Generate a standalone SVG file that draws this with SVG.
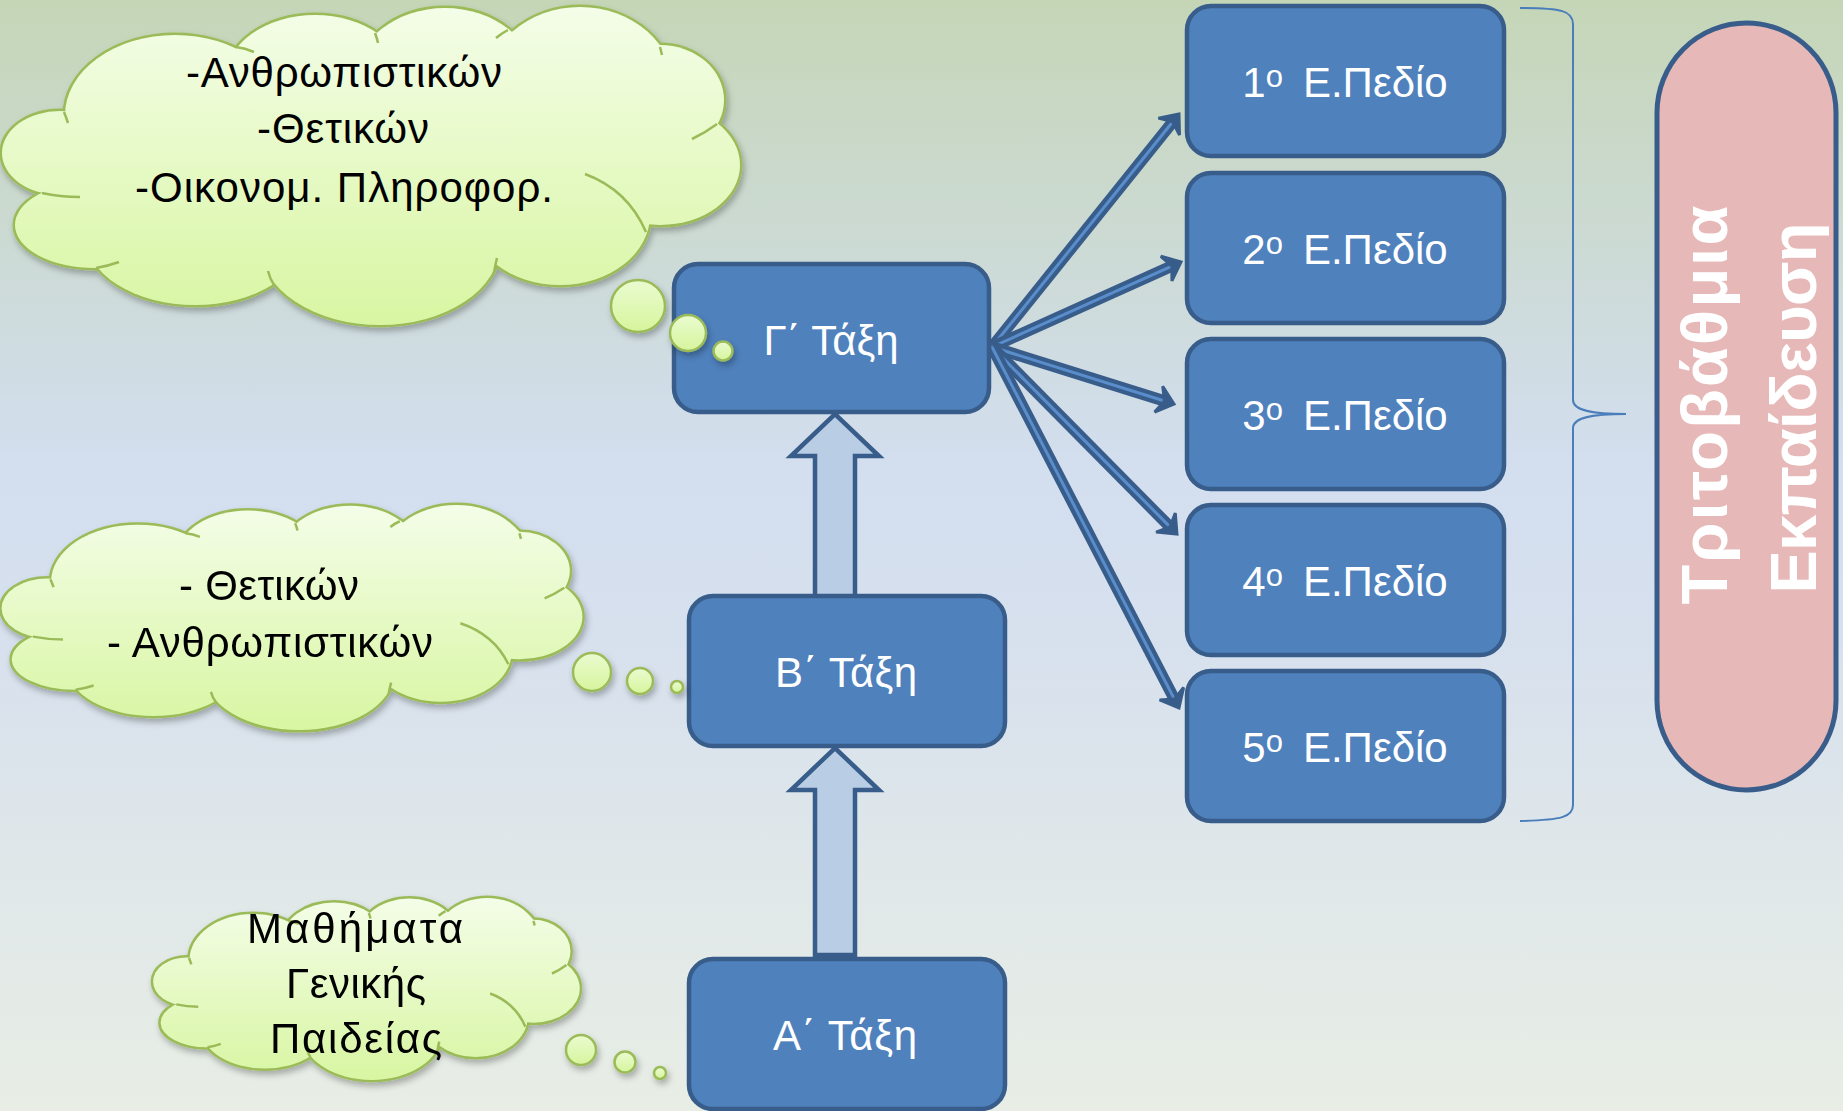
<svg xmlns="http://www.w3.org/2000/svg" width="1843" height="1111" viewBox="0 0 1843 1111">
<defs>
<style>
text{font-family:"Liberation Sans","DejaVu Sans",sans-serif}
.box{fill:#4f81bd;stroke:#385d8a;stroke-width:4.5}
.btxt{fill:#fff;font-size:42px;text-anchor:middle}
.ctxt{fill:#000;font-size:42px;text-anchor:middle}
.blk{fill:#b9cde5;stroke:#385d8a;stroke-width:4.5;stroke-linejoin:miter}
.fo{fill:none;stroke:#385d8a;stroke-width:11.5}
.fi{fill:none;stroke:#5a8dcc;stroke-width:3}
.fh{fill:#385d8a;stroke:#385d8a;stroke-width:3;stroke-linejoin:miter}
.bub{fill:url(#bubG);stroke:#9bbb59;stroke-width:2.5}
.ptxt{fill:#fff;font-size:65px;font-weight:bold;text-anchor:middle}
</style>
<linearGradient id="bgG" x1="0" y1="0" x2="0" y2="1">
<stop offset="0" stop-color="#c5d6b7"/>
<stop offset="0.42" stop-color="#d3deef"/>
<stop offset="0.55" stop-color="#d6e0ee"/>
<stop offset="1" stop-color="#e8eee5"/>
</linearGradient>
<linearGradient id="cloudG" gradientUnits="userSpaceOnUse" x1="0" y1="7" x2="0" y2="325">
<stop offset="0" stop-color="#f4fde8"/>
<stop offset="1" stop-color="#d8f6a2"/>
</linearGradient>
<linearGradient id="bubG" x1="0" y1="0" x2="0" y2="1">
<stop offset="0" stop-color="#eafbd0"/>
<stop offset="1" stop-color="#d6f59c"/>
</linearGradient>
<filter id="sh" x="-10%" y="-10%" width="125%" height="135%">
<feDropShadow dx="2" dy="4" stdDeviation="3" flood-color="#000" flood-opacity="0.28"/>
</filter>
<g id="lobes">
<ellipse vector-effect="non-scaling-stroke" cx="60" cy="153" rx="58" ry="42"/>
<ellipse vector-effect="non-scaling-stroke" cx="95" cy="225" rx="80" ry="43"/>
<ellipse vector-effect="non-scaling-stroke" cx="175" cy="115" rx="110" ry="80"/>
<ellipse vector-effect="non-scaling-stroke" cx="315" cy="80" rx="90" ry="65"/>
<ellipse vector-effect="non-scaling-stroke" cx="445" cy="80" rx="90" ry="72"/>
<ellipse vector-effect="non-scaling-stroke" cx="580" cy="90" rx="95" ry="83"/>
<ellipse vector-effect="non-scaling-stroke" cx="660" cy="100" rx="64" ry="55"/>
<ellipse vector-effect="non-scaling-stroke" cx="660" cy="165" rx="80" ry="60"/>
<ellipse vector-effect="non-scaling-stroke" cx="560" cy="215" rx="90" ry="70"/>
<ellipse vector-effect="non-scaling-stroke" cx="380" cy="245" rx="120" ry="80"/>
<ellipse vector-effect="non-scaling-stroke" cx="195" cy="235" rx="110" ry="70"/>
<ellipse vector-effect="non-scaling-stroke" cx="370" cy="165" rx="300" ry="110"/>
</g>
<g id="cloud">
<use href="#lobes" fill="#9bbb59" stroke="#9bbb59" stroke-width="5"/>
<use href="#lobes" fill="url(#cloudG)" stroke="none"/>
<path vector-effect="non-scaling-stroke" fill="none" stroke="#9bbb59" stroke-width="2.5" d="M42,193 Q60,197 80,197 M96,268 Q108,266 119,262 M274,285 Q270,279 268,271 M494,273 Q495,266 497,258 M585,174 Q628,190 646,232 M717,124 Q705,133 692,139 M660,47 Q661,51 662,55 M508,30 Q502,33 496,38 M375,33 Q377,38 378,43 M236,47 Q245,48 254,52 M64,112 Q66,117 68,123"/>
</g>
<path id="fs1" d="M992,347 L1172.7,121.8"/>
<path id="fs2" d="M992,347 L1171.9,266.1"/>
<path id="fs3" d="M992,347 L1164.5,401"/>
<path id="fs4" d="M992,347 L1170,526.9"/>
<path id="fs5" d="M992,347 L1174.4,699.1"/>
</defs>

<rect x="0" y="0" width="1843" height="1111" fill="url(#bgG)"/>

<g id="brace">
<path d="M1520,8 C1562,8 1573,11 1573,24 L1573,400 C1573,410 1590,414 1626,414 C1590,414 1573,418 1573,428 L1573,805 C1573,817 1562,820 1520,821" fill="none" stroke="#4a7ebb" stroke-width="2"/>
</g>

<g id="connectors">
<path class="blk" d="M815,598 V456 H791 L835,414 L879,456 H855 V598 Z"/>
<path class="blk" d="M815,955 V790 H791 L835,748 L879,790 H855 V955 Z"/>
<use href="#fs1" class="fo"/><use href="#fs1" class="fi"/>
<polygon class="fh" points="1179,114 1158.4,118.1 1172.7,121.8 1179.5,135"/>
<use href="#fs2" class="fo"/><use href="#fs2" class="fi"/>
<polygon class="fh" points="1181,262 1160.8,256.3 1171.9,266.1 1171.9,280.9"/>
<use href="#fs3" class="fo"/><use href="#fs3" class="fi"/>
<polygon class="fh" points="1174,404 1162.7,386.3 1164.5,401 1154.6,412.1"/>
<use href="#fs4" class="fo"/><use href="#fs4" class="fi"/>
<polygon class="fh" points="1177,534 1175.3,513.1 1170,526.9 1156.1,532.1"/>
<use href="#fs5" class="fo"/><use href="#fs5" class="fi"/>
<polygon class="fh" points="1179,708 1183.6,687.5 1174.4,699.1 1159.6,699.9"/>
</g>

<g id="node-g">
<rect class="box" x="674" y="264" width="315" height="148" rx="24"/>
<text class="btxt" x="831" y="355" textLength="135">Γ΄ Τάξη</text>
</g>
<g id="node-b">
<rect class="box" x="689" y="596" width="316" height="150" rx="24"/>
<text class="btxt" x="846" y="687" textLength="142">Β΄ Τάξη</text>
</g>
<g id="node-a">
<rect class="box" x="689" y="959" width="316" height="150" rx="24"/>
<text class="btxt" x="845" y="1050" textLength="144">Α΄ Τάξη</text>
</g>

<g id="node-p1">
<rect class="box" x="1187" y="6" width="317" height="150" rx="24"/>
<text class="btxt" x="1345" y="97">1<tspan dy="-10" font-size="31">ο</tspan><tspan dy="10" dx="20">Ε.Πεδίο</tspan></text>
</g>
<g id="node-p2">
<rect class="box" x="1187" y="173" width="317" height="150" rx="24"/>
<text class="btxt" x="1345" y="264">2<tspan dy="-10" font-size="31">ο</tspan><tspan dy="10" dx="20">Ε.Πεδίο</tspan></text>
</g>
<g id="node-p3">
<rect class="box" x="1187" y="339" width="317" height="150" rx="24"/>
<text class="btxt" x="1345" y="430">3<tspan dy="-10" font-size="31">ο</tspan><tspan dy="10" dx="20">Ε.Πεδίο</tspan></text>
</g>
<g id="node-p4">
<rect class="box" x="1187" y="505" width="317" height="150" rx="24"/>
<text class="btxt" x="1345" y="596">4<tspan dy="-10" font-size="31">ο</tspan><tspan dy="10" dx="20">Ε.Πεδίο</tspan></text>
</g>
<g id="node-p5">
<rect class="box" x="1187" y="671" width="317" height="150" rx="24"/>
<text class="btxt" x="1345" y="762">5<tspan dy="-10" font-size="31">ο</tspan><tspan dy="10" dx="20">Ε.Πεδίο</tspan></text>
</g>

<g id="cloud-top">
<g filter="url(#sh)">
<use href="#cloud"/>
<ellipse class="bub" cx="638" cy="306" rx="27" ry="26"/>
<ellipse class="bub" cx="688" cy="333" rx="18" ry="18"/>
<ellipse class="bub" cx="723" cy="351" rx="9.5" ry="9.5"/>
</g>
<text class="ctxt" x="344" y="87" textLength="316">-Ανθρωπιστικών</text>
<text class="ctxt" x="343" y="143" textLength="172">-Θετικών</text>
<text class="ctxt" x="344" y="202" textLength="418">-Οικονομ. Πληροφορ.</text>
</g>

<g id="cloud-mid">
<g filter="url(#sh)">
<use href="#cloud" transform="matrix(0.787 0 0 0.708 0 500)"/>
<ellipse class="bub" cx="592" cy="672" rx="19" ry="19"/>
<ellipse class="bub" cx="640" cy="681" rx="13" ry="13"/>
<ellipse class="bub" cx="677" cy="687" rx="6" ry="6"/>
</g>
<text class="ctxt" x="269" y="600" textLength="180">- Θετικών</text>
<text class="ctxt" x="270" y="657" textLength="326">- Ανθρωπιστικών</text>
</g>

<g id="cloud-bottom">
<g filter="url(#sh)">
<use href="#cloud" transform="matrix(0.578 0 0 0.572 152 894)"/>
<ellipse class="bub" cx="581" cy="1050" rx="15" ry="15"/>
<ellipse class="bub" cx="625" cy="1062" rx="10.5" ry="10.5"/>
<ellipse class="bub" cx="660" cy="1073" rx="6" ry="6"/>
</g>
<text class="ctxt" x="355" y="943" textLength="216">Μαθήματα</text>
<text class="ctxt" x="356" y="998" textLength="140">Γενικής</text>
<text class="ctxt" x="356" y="1053" textLength="172">Παιδείας</text>
</g>

<g id="pill">
<rect x="1657" y="23" width="179" height="767" rx="89.5" fill="#e6b8b7" stroke="#385d8a" stroke-width="5"/>
<text class="ptxt" transform="translate(1727,405) rotate(-90)" textLength="399">Τριτοβάθμια</text>
<text class="ptxt" transform="translate(1816,408) rotate(-90)" textLength="371">Εκπαίδευση</text>
</g>
</svg>
